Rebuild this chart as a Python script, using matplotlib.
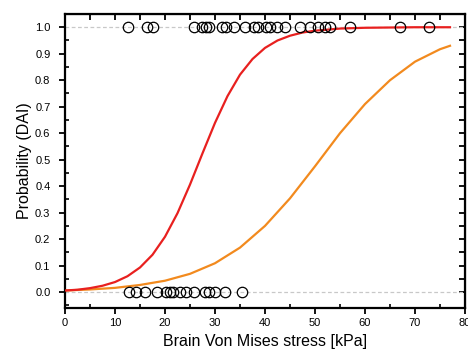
import matplotlib
matplotlib.use('Agg')
import matplotlib.pyplot as plt
from matplotlib.ticker import MultipleLocator

plt.rcParams['font.family'] = ['Liberation Sans', 'DejaVu Sans']

# observations (stress in kPa), injured = 1, not injured = 0
x_injured = [12.6, 16.4, 17.6, 25.8, 27.4, 28.2, 28.8, 31.4, 32.2, 33.8, 36.0,
             37.8, 38.6, 40.2, 41.0, 42.4, 44.0, 47.0, 49.0, 50.6, 52.0, 53.0,
             57.0, 67.0, 72.8]
x_uninjured = [12.7, 14.2, 16.0, 18.3, 20.2, 21.0, 21.5, 23.0, 24.2, 25.7,
               28.0, 28.7, 30.0, 32.0, 35.3]

# fitted curves
red_x = [0, 2.5, 5, 7.5, 10, 12.5, 15, 17.5, 20, 22.5, 25, 27.5, 30, 32.5, 35,
         37.5, 40, 42.5, 45, 47.5, 50, 55, 60, 65, 70, 77]
red_y = [0.006, 0.009, 0.015, 0.024, 0.038, 0.060, 0.093, 0.141, 0.209, 0.298,
         0.406, 0.524, 0.639, 0.740, 0.821, 0.880, 0.922, 0.950, 0.968, 0.980,
         0.987, 0.995, 0.998, 0.999, 1.0, 1.0]
orange_x = [0, 5, 10, 15, 20, 25, 30, 35, 40, 45, 50, 55, 60, 65, 70, 75, 77]
orange_y = [0.006, 0.010, 0.016, 0.027, 0.043, 0.069, 0.109, 0.168, 0.25,
            0.354, 0.475, 0.60, 0.71, 0.80, 0.87, 0.917, 0.93]

fig = plt.figure(figsize=(4.68, 3.52), dpi=100)
ax = fig.add_axes([65/468, 44/352, 400/468, 294/352])

for yv in (0, 1):
    ax.axhline(yv, color='#c8c8c8', linestyle=(0, (3, 2)), linewidth=0.9, zorder=1)

ax.plot(red_x, red_y, color='#e8201f', linewidth=1.6, zorder=3)
ax.plot(orange_x, orange_y, color='#f28a1e', linewidth=1.6, zorder=2)

ax.plot(x_injured, [1.0] * len(x_injured), 'o', mfc='none', mec='black',
        ms=7.5, mew=0.9, zorder=4)
ax.plot(x_uninjured, [0.0] * len(x_uninjured), 'o', mfc='none', mec='black',
        ms=7.5, mew=0.9, zorder=4)

ax.set_xlim(0, 80)
ax.set_ylim(-0.06, 1.05)
ax.xaxis.set_major_locator(MultipleLocator(10))
ax.xaxis.set_minor_locator(MultipleLocator(5))
ax.yaxis.set_major_locator(MultipleLocator(0.1))
ax.yaxis.set_minor_locator(MultipleLocator(0.05))
ax.set_yticks([i / 10 for i in range(11)])
ax.set_yticklabels(['%.1f' % (i / 10) for i in range(11)])

for s in ax.spines.values():
    s.set_linewidth(1.6)

ax.tick_params(which='major', direction='out', length=4.5, width=1.3,
               labelsize=8)
ax.tick_params(which='major', axis='x', pad=3)
ax.tick_params(which='major', axis='y', pad=6)
ax.tick_params(which='minor', direction='in', length=3, width=1.2)

# mirrored inward ticks on top and right
top = ax.secondary_xaxis('top')
top.set_xticks(range(0, 81, 5))
top.tick_params(direction='in', length=4, width=1.3, labeltop=False)
right = ax.secondary_yaxis('right')
right.set_yticks([i / 20 for i in range(21)])
right.tick_params(direction='in', length=4, width=1.3, labelright=False)
ax.tick_params(which='both', top=False, right=False)

ax.set_xlabel('Brain Von Mises stress [kPa]', fontsize=11.5, labelpad=4)
ax.set_ylabel('Probability (DAI)', fontsize=11.5, labelpad=2)

fig.savefig('out.png', dpi=100)
